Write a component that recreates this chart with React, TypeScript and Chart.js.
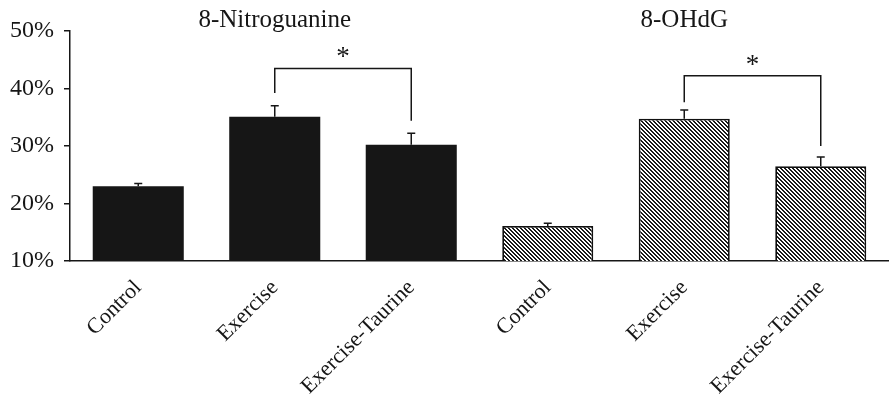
import React, { useEffect, useRef } from "react";
import { Chart, registerables } from "chart.js";

Chart.register(...registerables);

const categories = ["Control", "Exercise", "Exercise-Taurine", "Control", "Exercise", "Exercise-Taurine"];
const values = [23.0, 35.1, 30.2, 16.1, 34.75, 26.5];
const errors = [0.5, 1.9, 2.0, 0.45, 1.5, 1.6];
const hatched = [false, false, false, true, true, true];
const groupTitles = ["8-Nitroguanine", "8-OHdG"];
const groupCenters = [1, 4];
const bracketFrom = [1, 4];
const bracketTo = [2, 5];
const bracketTop = [43.5, 42.2];
const bracketLeftEnd = [39.2, 37.6];
const bracketRightEnd = [34.4, 30.0];
const yTicks = [10, 20, 30, 40, 50];

const FONT = "'Liberation Serif', 'Times New Roman', serif";
const INK = "#161616";

function makeHatch(): CanvasPattern | string {
  const c = document.createElement("canvas");
  const s = 4;
  c.width = s;
  c.height = s;
  const g = c.getContext("2d");
  if (!g) return "#888";
  g.fillStyle = "#ffffff";
  g.fillRect(0, 0, s, s);
  g.fillStyle = "#1a1a1a";
  for (let r = 0; r < s; r++) {
    g.fillRect(r % s, r, 1, 1);
    g.fillRect((r + 1) % s, r, 1, 1);
  }
  const p = g.createPattern(c, "repeat");
  return p || "#888";
}

const annotate = {
  id: "annotate",
  afterDatasetsDraw(chart: any) {
    const ctx = chart.ctx;
    const x = chart.scales.x;
    const y = chart.scales.y;
    ctx.save();
    ctx.strokeStyle = INK;
    ctx.lineWidth = 1.5;
    // error bars
    values.forEach((v, i) => {
      const cx = x.getPixelForValue(i);
      const y0 = y.getPixelForValue(v);
      const y1 = y.getPixelForValue(v + errors[i]);
      ctx.beginPath();
      ctx.moveTo(cx, y0);
      ctx.lineTo(cx, y1);
      ctx.moveTo(cx - 4, y1);
      ctx.lineTo(cx + 4, y1);
      ctx.stroke();
    });
    // brackets
    bracketFrom.forEach((f, k) => {
      const xa = x.getPixelForValue(f);
      const xb = x.getPixelForValue(bracketTo[k]);
      const yt = y.getPixelForValue(bracketTop[k]);
      const yl = y.getPixelForValue(bracketLeftEnd[k]);
      const yr = y.getPixelForValue(bracketRightEnd[k]);
      ctx.beginPath();
      ctx.moveTo(xa, yl);
      ctx.lineTo(xa, yt);
      ctx.lineTo(xb, yt);
      ctx.lineTo(xb, yr);
      ctx.stroke();
      ctx.fillStyle = INK;
      ctx.font = `27px ${FONT}`;
      ctx.textAlign = "center";
      ctx.textBaseline = "alphabetic";
      ctx.fillText("*", (xa + xb) / 2, yt - 3);
    });
    // titles
    ctx.fillStyle = INK;
    ctx.font = `25px ${FONT}`;
    ctx.textAlign = "center";
    ctx.textBaseline = "alphabetic";
    groupTitles.forEach((t, k) => {
      ctx.fillText(t, x.getPixelForValue(groupCenters[k]), chart.chartArea.top - 4);
    });
    ctx.restore();
  },
};

export default function App() {
  const ref = useRef<HTMLCanvasElement | null>(null);
  useEffect(() => {
    document.body.style.margin = "0";
    if (!ref.current) return;
    const hatch = makeHatch();
    const chart = new Chart(ref.current, {
      type: "bar",
      data: {
        labels: categories,
        datasets: [
          {
            data: values,
            backgroundColor: hatched.map((h) => (h ? hatch : INK)) as any,
            borderColor: hatched.map((h) => (h ? "#111111" : INK)),
            borderWidth: hatched.map((h) => (h ? 1.8 : 0)),
            categoryPercentage: 1,
            barPercentage: 0.667,
            borderSkipped: "bottom",
          },
        ],
      },
      options: {
        animation: false,
        responsive: false,
        maintainAspectRatio: false,
        layout: { padding: { top: 31, left: 0, right: 0, bottom: 0 } },
        plugins: {
          legend: { display: false },
          tooltip: { enabled: false },
          title: { display: false },
        },
        scales: {
          x: {
            grid: { display: false },
            border: { display: true, color: INK, width: 1.5 },
            ticks: {
              autoSkip: false,
              minRotation: 45,
              maxRotation: 45,
              color: INK,
              padding: 6,
              font: { family: FONT, size: 22 },
            },
            afterFit: (s: any) => {
              s.height = 138;
            },
          },
          y: {
            min: 10,
            max: 50,
            afterBuildTicks: (s: any) => {
              s.ticks = yTicks.map((v) => ({ value: v }));
            },
            grid: {
              display: true,
              drawOnChartArea: false,
              drawTicks: true,
              tickLength: 6,
              color: INK,
              lineWidth: 1.5,
            },
            border: { display: true, color: INK, width: 1.5 },
            ticks: {
              color: INK,
              padding: 10,
              font: { family: FONT, size: 24 },
              callback: (v: any) => `${v}%`,
            },
            afterFit: (s: any) => {
              s.width = 70;
            },
          },
        },
      },
      plugins: [annotate],
    });
    return () => chart.destroy();
  }, []);
  return (
    <div style={{ width: 889, height: 399 }}>
      <canvas ref={ref} width={889} height={399} />
    </div>
  );
}
